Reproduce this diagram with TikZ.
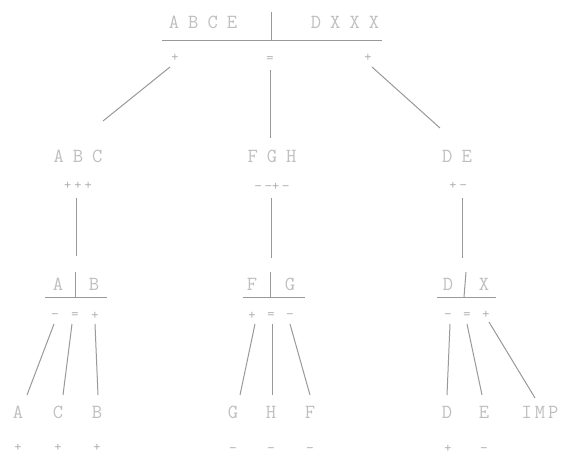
\documentclass[tikz,border=0pt]{standalone}
\usepackage{fontspec}
\newcommand{\ls}{\hspace{9pt}}
\newcommand{\lss}{\hspace{3pt}}
\begin{document}
\begin{tikzpicture}[x=1pt,y=-1pt,
  txt/.style={inner sep=0pt,text=black!25,font=\ttfamily\fontsize{20}{20}\selectfont},
  sg/.style={inner sep=0pt,text=black!32,font=\ttfamily\fontsize{14}{14}\selectfont},
  ln/.style={draw=black!40,line width=1pt},
  ul/.style={draw=black!40,line width=1pt}]
\useasboundingbox[fill=white] (0,0) rectangle (572,466);
% top
\node[txt] (topl) at (203,22) {A\ls B\ls C\ls E};
\node[txt] (topr) at (345,22) {D\ls X\ls X\ls X};
\coordinate (tbar1) at (271,12); \coordinate (tbar2) at (271,40);
\draw[ln] (tbar1) -- (tbar2);
\coordinate (tul1) at (162,40); \coordinate (tul2) at (382,40);
\draw[ul] (tul1) -- (tul2);
\node[sg] (tp1) at (175,58) {+};
\node[sg] (tp2) at (270,60) {=};
\node[sg] (tp3) at (368,58) {+};
% level 2
\node[txt] (abc) at (78,156) {A\ls B\ls C};
\node[txt] (fgh) at (272,156) {F\ls G\ls H};
\node[txt] (de) at (457,156) {D\ls E};
\coordinate (l1a) at (170,67); \coordinate (l1b) at (103,121);
\coordinate (l2a) at (270,70); \coordinate (l2b) at (270,138);
\coordinate (l3a) at (372,67); \coordinate (l3b) at (440,128);
\draw[ln] (l1a) -- (l1b);
\draw[ln] (l2a) -- (l2b);
\draw[ln] (l3a) -- (l3b);
\node[sg] (abcs) at (78,186) {+\lss +\lss +};
\node[sg] (fghs) at (272,187) {−\lss −+\lss −};
\node[sg] (des) at (458,186) {+\lss −};
% level 3
\coordinate (m1a) at (76,198); \coordinate (m1b) at (76,256);
\coordinate (m2a) at (271,198); \coordinate (m2b) at (271,258);
\coordinate (m3a) at (462,198); \coordinate (m3b) at (462,258);
\draw[ln] (m1a) -- (m1b);
\draw[ln] (m2a) -- (m2b);
\draw[ln] (m3a) -- (m3b);
\node[txt] (ab1) at (58,284) {A};
\node[txt] (ab2) at (94,284) {B};
\coordinate (abb1) at (75,272); \coordinate (abb2) at (75,297);
\draw[ln] (abb1) -- (abb2);
\coordinate (abu1) at (45,297); \coordinate (abu2) at (107,297);
\draw[ul] (abu1) -- (abu2);
\node[txt] (fg1) at (252,284) {F};
\node[txt] (fg2) at (290,284) {G};
\coordinate (fgb1) at (270,272); \coordinate (fgb2) at (270,297);
\draw[ln] (fgb1) -- (fgb2);
\coordinate (fgu1) at (243,297); \coordinate (fgu2) at (305,297);
\draw[ul] (fgu1) -- (fgu2);
\node[txt] (dx1) at (448,284) {D};
\node[txt] (dx2) at (484,284) {X};
\coordinate (dxb1) at (466,272); \coordinate (dxb2) at (464,297);
\draw[ln] (dxb1) -- (dxb2);
\coordinate (dxu1) at (437,297); \coordinate (dxu2) at (496,297);
\draw[ul] (dxu1) -- (dxu2);
\node[sg] (abs1) at (55,316) {−};
\node[sg] (abs2) at (75,316) {=};
\node[sg] (abs3) at (95,316) {+};
\node[sg] (fgs1) at (252,316) {+};
\node[sg] (fgs2) at (271,316) {=};
\node[sg] (fgs3) at (290,316) {−};
\node[sg] (dxs1) at (448,316) {−};
\node[sg] (dxs2) at (467,316) {=};
\node[sg] (dxs3) at (486,315) {+};
% leaves
\node[txt] (a) at (18,412) {A};
\node[txt] (c) at (58,412) {C};
\node[txt] (b) at (97,412) {B};
\node[txt] (g) at (233,412) {G};
\node[txt] (h) at (271,412) {H};
\node[txt] (f) at (310,412) {F};
\node[txt] (d) at (447,412) {D};
\node[txt] (e) at (484,412) {E};
\node[txt] (imp) at (540,412) {I\lss M\lss P};
\coordinate (a1) at (54,324); \coordinate (a2) at (27,395);
\coordinate (c1) at (72,324); \coordinate (c2) at (63,395);
\coordinate (b1) at (95,324); \coordinate (b2) at (98,395);
\draw[ln] (a1) -- (a2);
\draw[ln] (c1) -- (c2);
\draw[ln] (b1) -- (b2);
\coordinate (g1) at (255,324); \coordinate (g2) at (240,395);
\coordinate (h1) at (272,324); \coordinate (h2) at (272,395);
\coordinate (f1) at (290,324); \coordinate (f2) at (310,395);
\draw[ln] (g1) -- (g2);
\draw[ln] (h1) -- (h2);
\draw[ln] (f1) -- (f2);
\coordinate (d1) at (450,324); \coordinate (d2) at (447,395);
\coordinate (e1) at (467,324); \coordinate (e2) at (482,395);
\coordinate (i1) at (489,322); \coordinate (i2) at (535,398);
\draw[ln] (d1) -- (d2);
\draw[ln] (e1) -- (e2);
\draw[ln] (i1) -- (i2);
\node[sg] (as) at (18,448) {+};
\node[sg] (cs) at (58,448) {+};
\node[sg] (bs) at (97,448) {+};
\node[sg] (gs) at (233,450) {−};
\node[sg] (hs) at (271,450) {−};
\node[sg] (fs) at (310,450) {−};
\node[sg] (ds) at (448,449) {+};
\node[sg] (es) at (484,450) {−};
\end{tikzpicture}
\end{document}
